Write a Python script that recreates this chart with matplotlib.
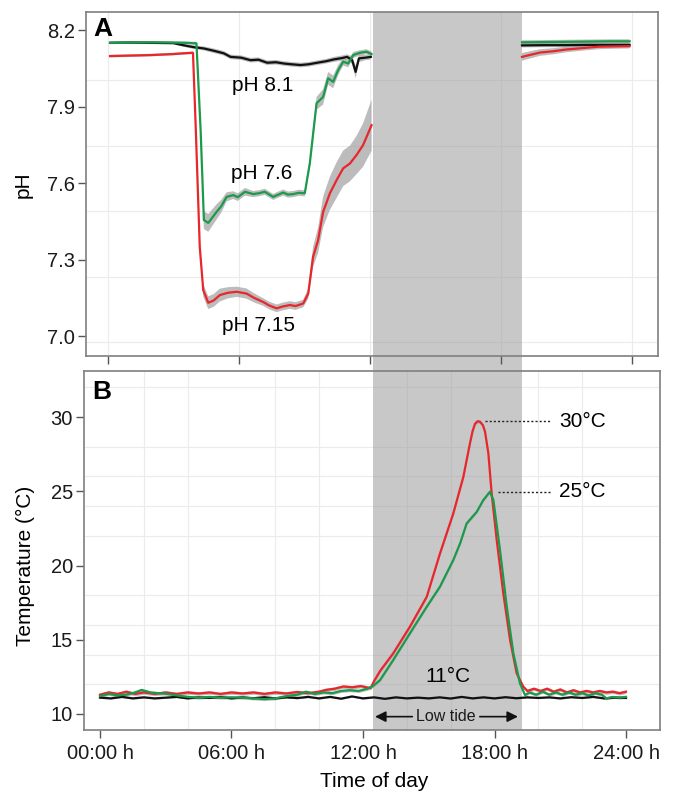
import numpy as np
import matplotlib
matplotlib.use('Agg')
import matplotlib.pyplot as plt
from matplotlib.patches import Rectangle
from matplotlib.transforms import blended_transform_factory
from matplotlib.ticker import MultipleLocator, FixedLocator

plt.rcParams['font.family'] = ['Liberation Sans', 'DejaVu Sans']

nan = np.nan

# ---- panel A: pH through the day (nan = no record during low tide) ----
ph81_t = [0.1, 1.0, 2.0, 3.0, 3.5, 3.94, 4.4, 4.9, 5.31, 5.62, 6.1, 6.54, 6.9, 7.3, 7.7, 8.06, 8.4, 8.83,
          9.2, 9.59, 10.0, 10.35, 10.7, 10.96, 11.19, 11.35, 11.5, 11.8, 12.05, 15.5,
          18.97, 20.0, 21.0, 22.0, 23.0, 23.9]
ph81_v = [8.150, 8.151, 8.150, 8.149, 8.140, 8.133, 8.128, 8.118, 8.109, 8.095, 8.092, 8.082, 8.084, 8.072,
          8.074, 8.069, 8.066, 8.063, 8.066, 8.072, 8.078, 8.085, 8.090, 8.095, 8.082, 8.036, 8.089, 8.092,
          8.095, nan, 8.140, 8.141, 8.141, 8.142, 8.142, 8.142]
ph81_sd = [0.005, 0.005, 0.005, 0.005, 0.006, 0.007, 0.008, 0.009, 0.009, 0.009, 0.009, 0.009, 0.009, 0.009,
           0.009, 0.009, 0.009, 0.009, 0.009, 0.009, 0.009, 0.010, 0.010, 0.010, 0.015, 0.025, 0.015, 0.010,
           0.010, nan, 0.008, 0.008, 0.008, 0.008, 0.008, 0.008]

ph76_t = [0.1, 1.0, 2.0, 3.0, 3.6, 4.06, 4.25, 4.40, 4.60, 4.98, 5.2, 5.44, 5.74, 5.95, 6.28, 6.66, 6.9,
          7.19, 7.57, 8.03, 8.25, 8.49, 8.75, 9.02, 9.25, 9.56, 9.86, 10.09, 10.32, 10.55, 10.78, 11.01,
          11.24, 11.54, 11.85, 12.08, 15.5, 18.97, 20.0, 21.0, 22.0, 23.0, 23.9]
ph76_v = [8.150, 8.151, 8.152, 8.151, 8.150, 8.148, 7.808, 7.455, 7.444, 7.487, 7.510, 7.546, 7.553, 7.545,
          7.566, 7.557, 7.560, 7.566, 7.546, 7.563, 7.555, 7.557, 7.562, 7.560, 7.677, 7.913, 7.938, 8.011,
          7.997, 8.043, 8.076, 8.069, 8.102, 8.111, 8.115, 8.106, nan, 8.152, 8.153, 8.154, 8.155, 8.156, 8.156]
ph76_sd = [0.005, 0.005, 0.005, 0.005, 0.005, 0.006, 0.020, 0.035, 0.035, 0.030, 0.025, 0.018, 0.015, 0.015,
           0.015, 0.012, 0.012, 0.012, 0.012, 0.012, 0.012, 0.012, 0.012, 0.012, 0.020, 0.025, 0.030, 0.025,
           0.025, 0.020, 0.015, 0.015, 0.012, 0.010, 0.010, 0.010, nan, 0.008, 0.008, 0.008, 0.008, 0.008, 0.008]

ph715_t = [0.1, 1.0, 1.96, 3.0, 3.48, 3.9, 4.03, 4.21, 4.37, 4.60, 4.85, 5.13, 5.5, 5.9, 6.35, 6.7, 7.11,
           7.4, 7.73, 8.0, 8.34, 8.6, 8.95, 9.18, 9.40, 9.63, 9.86, 10.17, 10.48, 10.78, 11.09, 11.39, 11.69,
           12.08, 15.5, 18.97, 19.4, 19.8, 20.4, 21.0, 21.8, 22.5, 23.2, 23.9]
ph715_v = [8.098, 8.100, 8.102, 8.106, 8.109, 8.111, 7.808, 7.350, 7.180, 7.131, 7.140, 7.161, 7.170, 7.174,
           7.167, 7.150, 7.134, 7.120, 7.109, 7.116, 7.122, 7.118, 7.128, 7.167, 7.311, 7.376, 7.487, 7.560,
           7.612, 7.658, 7.677, 7.710, 7.749, 7.827, nan, 8.095, 8.104, 8.112, 8.117, 8.124, 8.130, 8.135,
           8.136, 8.137]
ph715_sd = [0.005, 0.005, 0.005, 0.005, 0.005, 0.005, 0.015, 0.020, 0.025, 0.025, 0.025, 0.025, 0.022, 0.020,
            0.020, 0.018, 0.015, 0.015, 0.015, 0.015, 0.015, 0.015, 0.015, 0.020, 0.040, 0.050, 0.060, 0.065,
            0.070, 0.070, 0.070, 0.075, 0.085, 0.100, nan, 0.015, 0.014, 0.013, 0.012, 0.011, 0.010, 0.010,
            0.009, 0.009]

# ---- panel B: temperature through the day ----
t11_t = [0.0, 0.5, 1.0, 1.5, 2.0, 2.5, 3.0, 3.5, 4.0, 4.5, 5.0, 5.5, 6.0, 6.5, 7.0, 7.5, 8.0, 8.5, 9.0,
         9.5, 10.0, 10.5, 11.0, 11.5, 12.0, 12.5, 13.0, 13.5, 14.0, 14.5, 15.0, 15.5, 16.0, 16.5, 17.0,
         17.5, 18.0, 18.5, 19.0, 19.5, 20.0, 20.5, 21.0, 21.5, 22.0, 22.5, 23.0, 23.5, 24.0]
t11_v = [11.10, 11.05, 11.15, 11.05, 11.12, 11.05, 11.10, 11.15, 11.05, 11.12, 11.08, 11.14, 11.05, 11.12,
         11.06, 11.13, 11.05, 11.12, 11.07, 11.15, 11.05, 11.15, 11.03, 11.18, 11.05, 11.12, 11.02, 11.12,
         11.05, 11.10, 11.05, 11.12, 11.04, 11.15, 11.05, 11.12, 11.05, 11.13, 11.06, 11.12, 11.08, 11.12,
         11.05, 11.13, 11.08, 11.15, 11.05, 11.10, 11.08]

t25_t = [0.0, 0.4, 0.8, 1.2, 1.6, 1.9, 2.3, 2.7, 3.1, 3.5, 4.0, 4.5, 5.0, 5.5, 6.0, 6.5, 7.0, 7.5, 8.0,
         8.5, 9.0, 9.4, 9.8, 10.2, 10.6, 11.0, 11.4, 11.8, 12.2, 12.47, 12.78, 13.38, 14.14, 14.91, 15.51,
         16.12, 16.43, 16.73, 17.19, 17.49, 17.79, 17.95, 18.25, 18.56, 18.86, 19.16, 19.39, 19.6, 19.9,
         20.2, 20.5, 20.8, 21.1, 21.4, 21.7, 22.0, 22.3, 22.6, 22.9, 23.1, 23.4, 23.7, 24.0]
t25_v = [11.20, 11.35, 11.25, 11.30, 11.45, 11.62, 11.45, 11.40, 11.35, 11.25, 11.15, 11.10, 11.15, 11.10,
         11.12, 11.10, 11.05, 11.00, 11.05, 11.20, 11.30, 11.50, 11.35, 11.45, 11.40, 11.55, 11.60, 11.55,
         11.70, 11.90, 12.29, 13.64, 15.43, 17.23, 18.57, 20.37, 21.49, 22.84, 23.62, 24.41, 24.97, 24.41,
         21.04, 17.23, 14.09, 12.07, 11.28, 11.45, 11.30, 11.50, 11.30, 11.45, 11.30, 11.45, 11.30, 11.40,
         11.25, 11.40, 11.30, 11.05, 11.15, 11.10, 11.15]

t30_t = [0.0, 0.4, 0.8, 1.2, 1.6, 2.0, 2.5, 3.0, 3.5, 4.0, 4.5, 5.0, 5.5, 6.0, 6.5, 7.0, 7.5, 8.0, 8.5,
         9.0, 9.5, 10.0, 10.3, 10.7, 11.1, 11.5, 11.9, 12.2, 12.35, 12.5, 12.78, 13.38, 14.14, 14.91, 15.51,
         16.12, 16.58, 16.88, 17.0, 17.11, 17.23, 17.34, 17.47, 17.57, 17.72, 17.87, 18.10, 18.40, 18.71,
         19.01, 19.31, 19.5, 19.8, 20.1, 20.4, 20.7, 21.0, 21.3, 21.6, 21.9, 22.2, 22.5, 22.8, 23.1, 23.4,
         23.7, 24.0]
t30_v = [11.30, 11.45, 11.35, 11.50, 11.35, 11.45, 11.35, 11.45, 11.35, 11.45, 11.38, 11.45, 11.35, 11.45,
         11.38, 11.45, 11.35, 11.45, 11.38, 11.48, 11.40, 11.50, 11.62, 11.70, 11.85, 11.80, 11.88, 11.78,
         11.75, 12.20, 12.90, 14.09, 15.88, 17.90, 20.80, 23.51, 25.98, 28.23, 29.05, 29.55, 29.72, 29.68,
         29.45, 29.00, 27.55, 24.86, 21.72, 18.13, 14.98, 12.74, 11.84, 11.55, 11.70, 11.55, 11.70, 11.50,
         11.65, 11.45, 11.60, 11.45, 11.55, 11.45, 11.55, 11.45, 11.50, 11.40, 11.50]

low_tide = (12.15, 18.95)          # shaded period, panel A hours
hour_ticks = [0, 6, 12, 18, 24]
hour_labels = ['00:00 h', '06:00 h', '12:00 h', '18:00 h', '24:00 h']
ph_ticks = [7.0, 7.3, 7.6, 7.9, 8.2]
temp_ticks = [10, 15, 20, 25, 30]

RED = '#e8262b'
GREEN = '#1b9a4b'
BLACK = '#111111'
RIBBON = '#a0a0a0'
SHADE = '#9c9c9c'
GRID = '#ebebeb'


def style(ax):
    ax.set_axisbelow(True)
    for s in ax.spines.values():
        s.set_color('#7f7f7f')
        s.set_linewidth(1.2)
    ax.tick_params(which='major', direction='out', length=6, width=1, color='#555555',
                   labelsize=14.5, labelcolor='#1a1a1a', pad=2)
    ax.tick_params(which='minor', length=0)


def series(ax, t, v, sd, color):
    t = np.array(t)
    v = np.array(v)
    sd = np.array(sd)
    ax.fill_between(t, v - sd, v + sd, color=RIBBON, alpha=0.7, lw=0, zorder=2)
    ax.plot(t, v, color=color, lw=1.6, zorder=3, solid_joinstyle='round')


fig = plt.figure(figsize=(6.74, 7.94), dpi=100)
axA = fig.add_axes([0.1276, 0.5516, 0.8487, 0.4333])
axB = fig.add_axes([0.1246, 0.0806, 0.8546, 0.4521])

# ---- A ----
style(axA)
axA.set_xlim(-1.0, 25.2)
axA.set_ylim(6.922, 8.271)
axA.set_xticks(hour_ticks)
axA.set_xticklabels([])
axA.set_yticks(ph_ticks)
axA.set_yticklabels(['%.1f' % p for p in ph_ticks])
axA.yaxis.set_minor_locator(FixedLocator([6.977, 7.23, 7.49, 7.745, 8.004]))
axA.grid(True, which='major', axis='x', color=GRID, lw=0.8)
axA.grid(True, which='minor', axis='y', color=GRID, lw=0.8)
axA.axvspan(low_tide[0], low_tide[1], color=SHADE, alpha=0.55, lw=0, zorder=1)

series(axA, ph81_t, ph81_v, ph81_sd, BLACK)
series(axA, ph76_t, ph76_v, ph76_sd, GREEN)
series(axA, ph715_t, ph715_v, ph715_sd, RED)

axA.text(7.10, 7.984, 'pH 8.1', fontsize=15, ha='center', va='center')
axA.text(7.05, 7.639, 'pH 7.6', fontsize=15, ha='center', va='center')
axA.text(6.92, 7.043, 'pH 7.15', fontsize=15, ha='center', va='center')
axA.text(0.012, 0.985, 'A', transform=axA.transAxes, fontsize=19, fontweight='bold', va='top', ha='left')
axA.set_ylabel('pH', fontsize=15)
axA.yaxis.set_label_coords(-0.093, 0.497)

# ---- B ----
style(axB)
axB.set_xlim(-0.73, 25.55)
axB.set_ylim(8.92, 33.1)
axB.set_xticks(hour_ticks)
axB.set_xticklabels(hour_labels)
axB.tick_params(axis='x', pad=4)
axB.set_yticks(temp_ticks)
axB.xaxis.set_minor_locator(MultipleLocator(2))
axB.yaxis.set_minor_locator(MultipleLocator(2))
axB.grid(True, which='minor', color=GRID, lw=0.8)

# low tide shading, same screen position as in panel A
shadeB = Rectangle((low_tide[0], 0), low_tide[1] - low_tide[0], 1,
                   transform=blended_transform_factory(axA.transData, axB.transAxes),
                   facecolor=SHADE, alpha=0.55, lw=0, zorder=1)
axB.add_patch(shadeB)
gap = Rectangle((low_tide[0], 0.5327), low_tide[1] - low_tide[0], 0.5516 - 0.5327,
                transform=blended_transform_factory(axA.transData, fig.transFigure),
                facecolor='#c8c8c8', lw=0, zorder=-1)
fig.add_artist(gap)

series(axB, t11_t, t11_v, np.full(len(t11_t), 0.05), BLACK)
series(axB, t30_t, t30_v, np.full(len(t30_t), 0.12), RED)
series(axB, t25_t, t25_v, np.full(len(t25_t), 0.10), GREEN)

# peak labels with dotted leaders
for t, v, lab in [(t30_t, t30_v, '30°C'), (t25_t, t25_v, '25°C')]:
    i = int(np.argmax(v))
    axB.plot([t[i] + 0.35, 20.6], [v[i], v[i]], color='#222222', lw=1.0,
             linestyle=(0, (1.5, 1.5)), zorder=3)
    axB.text(20.95, v[i], lab, fontsize=15, ha='left', va='center')

axB.text(15.89, 12.51, '11°C', fontsize=15, ha='center', va='center')

# low tide arrow
arrow_y = 9.82
axB.text(15.78, arrow_y, 'Low tide', fontsize=11.5, ha='center', va='center', color='#1a1a1a')
for x0, x1 in [(14.25, 12.55), (17.33, 19.07)]:
    axB.annotate('', xy=(x1, arrow_y), xytext=(x0, arrow_y),
                 arrowprops=dict(arrowstyle='-|>', color='#111111', lw=1.2,
                                 mutation_scale=16, shrinkA=0, shrinkB=0))

axB.text(0.014, 0.975, 'B', transform=axB.transAxes, fontsize=19, fontweight='bold', va='top', ha='left')
axB.set_ylabel('Temperature (°C)', fontsize=15)
axB.yaxis.set_label_coords(-0.085, 0.457)
axB.set_xlabel('Time of day', fontsize=15, va='top')
axB.xaxis.set_label_coords(0.503, -0.117)

fig.savefig('out.png', dpi=100)
